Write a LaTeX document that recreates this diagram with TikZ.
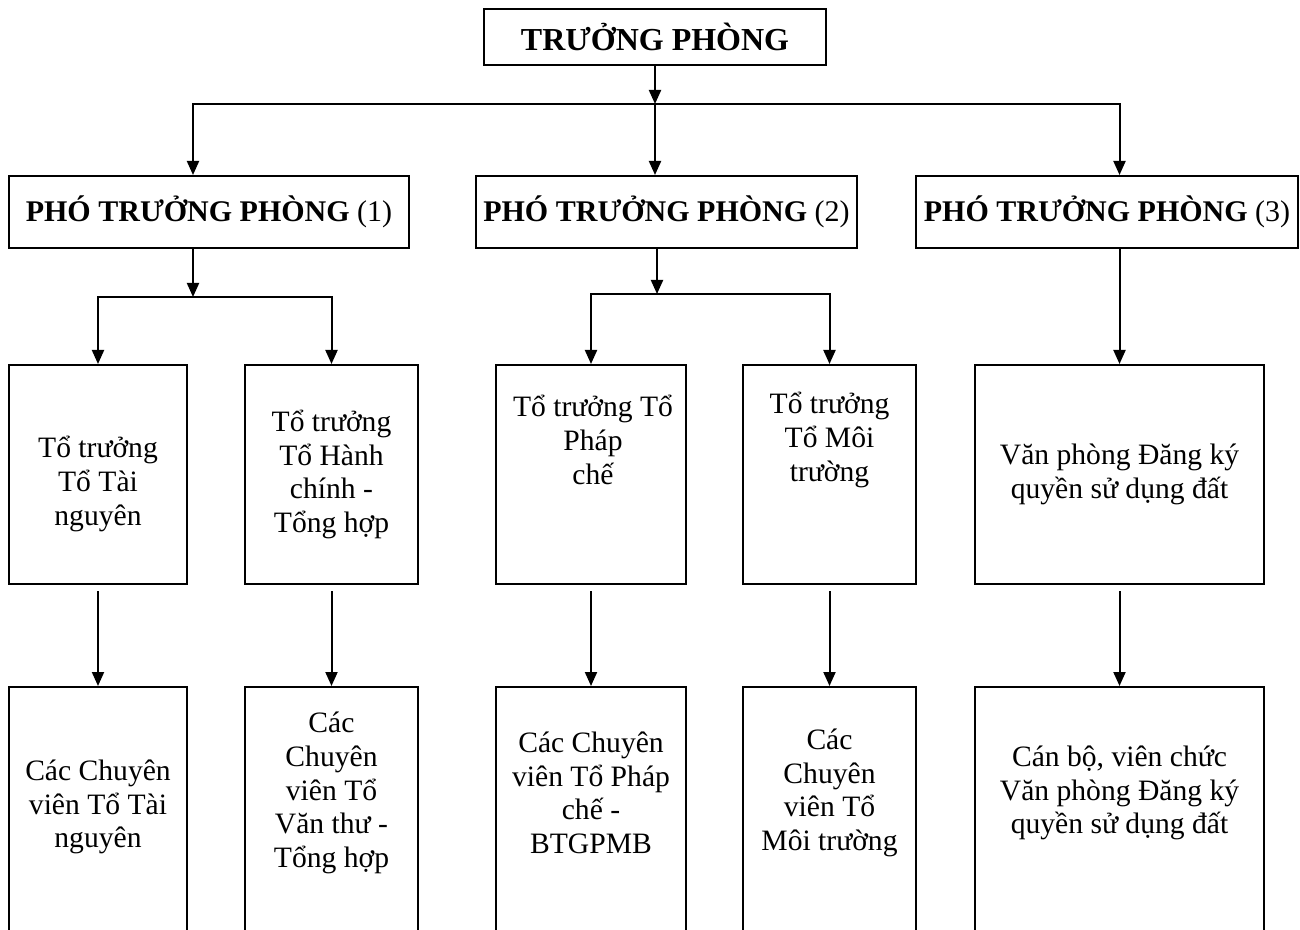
\documentclass[tikz,border=0pt]{standalone}
\usepackage{fontspec}
\setmainfont{Liberation Serif}
\usetikzlibrary{arrows.meta}

\begin{document}
\begin{tikzpicture}
    [x=0.5pt,y=-0.5pt,
     box/.style={draw,line width=1pt,inner sep=0pt,align=center,
                 font=\fontsize{14.8}{16.8}\selectfont},
     txt/.style={align=center,inner sep=0pt,font=\fontsize{14.8}{16.8}\selectfont},
     head/.style={box,minimum height=36pt,font=\fontsize{15}{18}\selectfont},
     arr/.style={-{Triangle[length=7pt,width=6pt]},line width=1pt},
     sub/.style={arr,shorten <=3pt}]
    \useasboundingbox (0,0) rectangle (1300,930);
    % head of the office
    \node [head,minimum width=171pt,minimum height=28pt,
           font=\fontsize{16}{19}\selectfont] (tp) at (655,37)
      {\bfseries TRƯỞNG PHÒNG};
    \node [head,minimum width=200pt] (p1) at (209,212)
      {{\bfseries PHÓ TRƯỞNG PHÒNG} (1)};
    \node [head,minimum width=190.5pt] (p2) at (666.5,212)
      {{\bfseries PHÓ TRƯỞNG PHÒNG} (2)};
    \node [head,minimum width=191pt] (p3) at (1107,212)
      {{\bfseries PHÓ TRƯỞNG PHÒNG} (3)};
    % team leaders
    \node [box,minimum width=89pt,minimum height=109.5pt] (tn) at (98,474.5) {};
    \node [txt] (tnt) at (98,484) {Tổ trưởng\\Tổ Tài\\nguyên};
    \node [box,minimum width=86.5pt,minimum height=109.5pt] (hc) at (331.5,474.5)
      {Tổ trưởng\\Tổ Hành\\chính -\\Tổng hợp};
    \node [box,minimum width=95pt,minimum height=109.5pt] (pc) at (591,474.5) {};
    \node [txt] (pct) at (593,440) {Tổ trưởng Tổ\\Pháp\\chế};
    \node [box,minimum width=86.5pt,minimum height=109.5pt] (mt) at (829.5,474.5) {};
    \node [txt] (mtt) at (829.5,440) {Tổ trưởng\\Tổ Môi\\trường};
    \node [box,minimum width=144.5pt,minimum height=109.5pt] (vp) at (1119.5,474.5)
      {Văn phòng Đăng ký\\quyền sử dụng đất};
    % staff (boxes run past the lower edge)
    \node [box,minimum width=89pt,minimum height=141.5pt] (cv1) at (98,828.5) {};
    \node [box,minimum width=86.5pt,minimum height=141.5pt] (cv2) at (331.5,828.5) {};
    \node [box,minimum width=95pt,minimum height=141.5pt] (cv3) at (591,828.5) {};
    \node [box,minimum width=86.5pt,minimum height=141.5pt] (cv4) at (829.5,828.5) {};
    \node [box,minimum width=144.5pt,minimum height=141.5pt] (cv5) at (1119.5,828.5) {};
    \node [txt] (cv1t) at (98,807) {Các Chuyên\\viên Tổ Tài\\nguyên};
    \node [txt] (cv2t) at (331.5,793) {Các\\Chuyên\\viên Tổ\\Văn thư -\\Tổng hợp};
    \node [txt] (cv3t) at (591,793) {Các Chuyên\\viên Tổ Pháp\\chế -\\BTGPMB};
    \node [txt] (cv4t) at (829.5,793) {Các\\Chuyên\\viên Tổ\\Môi trường};
    \node [txt] (cv5t) at (1119.5,793)
      {Cán bộ, viên chức\\Văn phòng Đăng ký\\quyền sử dụng đất};
    % branch points
    \coordinate (j0) at (655,104);
    \coordinate (j1) at (193,297);
    \coordinate (j2) at (657,294);
    \draw [arr] (tp) -- (j0);
    \draw [arr] (j0) -- (j0 |- p2.north);
    \draw [arr] (j0) -| (j1 |- p1.north);
    \draw [arr] (j0) -| (vp |- p3.north);
    \draw [arr] (j1 |- p1.south) -- (j1);
    \draw [arr] (j1) -| (tn);
    \draw [arr] (j1) -| (hc);
    \draw [arr] (j2 |- p2.south) -- (j2);
    \draw [arr] (j2) -| (pc);
    \draw [arr] (j2) -| (mt);
    \draw [arr] (vp |- p3.south) -- (vp);
    \draw [sub] (tn) -- (cv1);
    \draw [sub] (hc) -- (cv2);
    \draw [sub] (pc) -- (cv3);
    \draw [sub] (mt) -- (cv4);
    \draw [sub] (vp) -- (cv5);
  \end{tikzpicture}
\end{document}
